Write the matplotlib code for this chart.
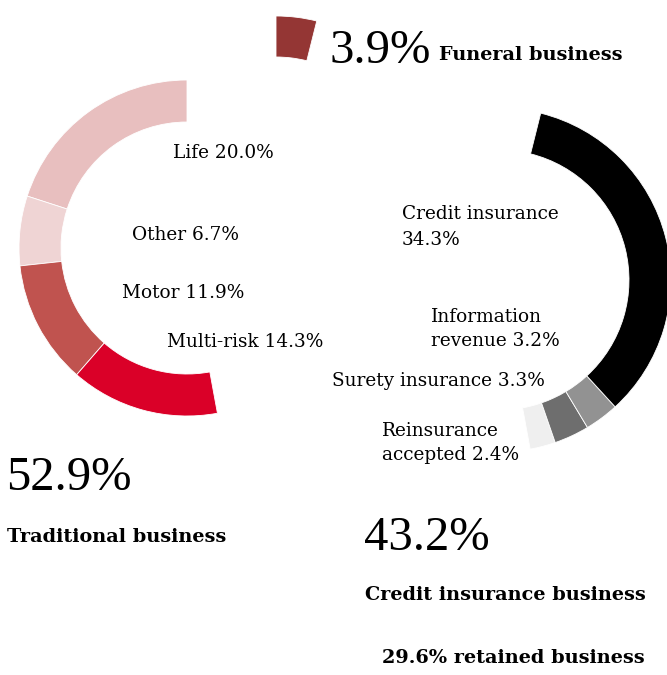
import matplotlib.pyplot as plt

W, H = 667, 675

# traditional business segments (share of total premium, %)
trad_labels = ["Life", "Other", "Motor", "Multi-risk"]
trad_values = [20.0, 6.7, 11.9, 14.3]
trad_colors = ["#e8bfbf", "#efd4d4", "#c0534f", "#da0028"]

# credit insurance segments, drawn counter-clockwise from the bottom
credit_labels = ["Reinsurance accepted", "Surety insurance", "Information revenue", "Credit insurance"]
credit_values = [2.4, 3.3, 3.2, 34.3]
credit_colors = ["#efefef", "#6e6e6e", "#929292", "#000000"]

funeral_values = [3.9]
funeral_colors = ["#943634"]

retained = 29.6

label_font = "DejaVu Serif"
big_font = "Liberation Serif"


def py(y):
    # positions below are measured from the top edge
    return H - y


fig = plt.figure(figsize=(W / 100, H / 100), dpi=100)
ax = fig.add_axes([0, 0, 1, 1])


def ring(values, colors, start, center, r_out, r_in):
    ax.pie([v / 100 for v in values], colors=colors, normalize=False,
           startangle=start, counterclock=True,
           center=(center[0], py(center[1])), radius=r_out,
           wedgeprops=dict(width=r_out - r_in, edgecolor="white", linewidth=0.6))
    return start + sum(values) * 3.6


a = 90
a = ring(trad_values, trad_colors, a, (187, 248), 168, 126)
a = ring(credit_values, credit_colors, a, (499, 280), 172, 130)
a = ring(funeral_values, funeral_colors, a, (276, 184), 168, 127)

ax.set_xlim(0, W)
ax.set_ylim(0, H)
ax.set_aspect("auto")
ax.axis("off")

fs = 13.3
bold_fs = 13.9


def label(x, y, s, ls=1.4):
    ax.text(x, py(y), s, fontsize=fs, family=label_font, va="center",
            ha="left", linespacing=ls)


label(173, 153, f"{trad_labels[0]} {trad_values[0]:.1f}%")
label(132, 235, f"{trad_labels[1]} {trad_values[1]:.1f}%")
label(122, 293, f"{trad_labels[2]} {trad_values[2]:.1f}%")
label(167, 342, f"{trad_labels[3]} {trad_values[3]:.1f}%")

label(402, 227, f"Credit insurance\n{credit_values[3]:.1f}%", ls=1.55)
label(431, 329, f"Information\nrevenue {credit_values[2]:.1f}%")
label(332, 381, f"Surety insurance {credit_values[1]:.1f}%")
label(382, 443, f"Reinsurance\naccepted {credit_values[0]:.1f}%")

big = 35
ax.text(330, py(63), f"{sum(funeral_values):.1f}%", fontsize=big, family=big_font, va="baseline")
ax.text(439, py(60), "Funeral business", fontsize=bold_fs, family=label_font,
        fontweight="bold", va="baseline")

ax.text(6, py(490), f"{sum(trad_values):.1f}%", fontsize=big, family=big_font, va="baseline")
ax.text(7, py(537), "Traditional business", fontsize=bold_fs, family=label_font,
        fontweight="bold", va="center")

ax.text(364, py(550), f"{sum(credit_values):.1f}%", fontsize=big, family=big_font, va="baseline")
ax.text(365, py(595), "Credit insurance business", fontsize=bold_fs, family=label_font,
        fontweight="bold", va="center")
ax.text(645, py(658), f"{retained:.1f}% retained business", fontsize=bold_fs,
        family=label_font, fontweight="bold", va="center", ha="right")

fig.savefig("out.png", dpi=100, facecolor="white")
